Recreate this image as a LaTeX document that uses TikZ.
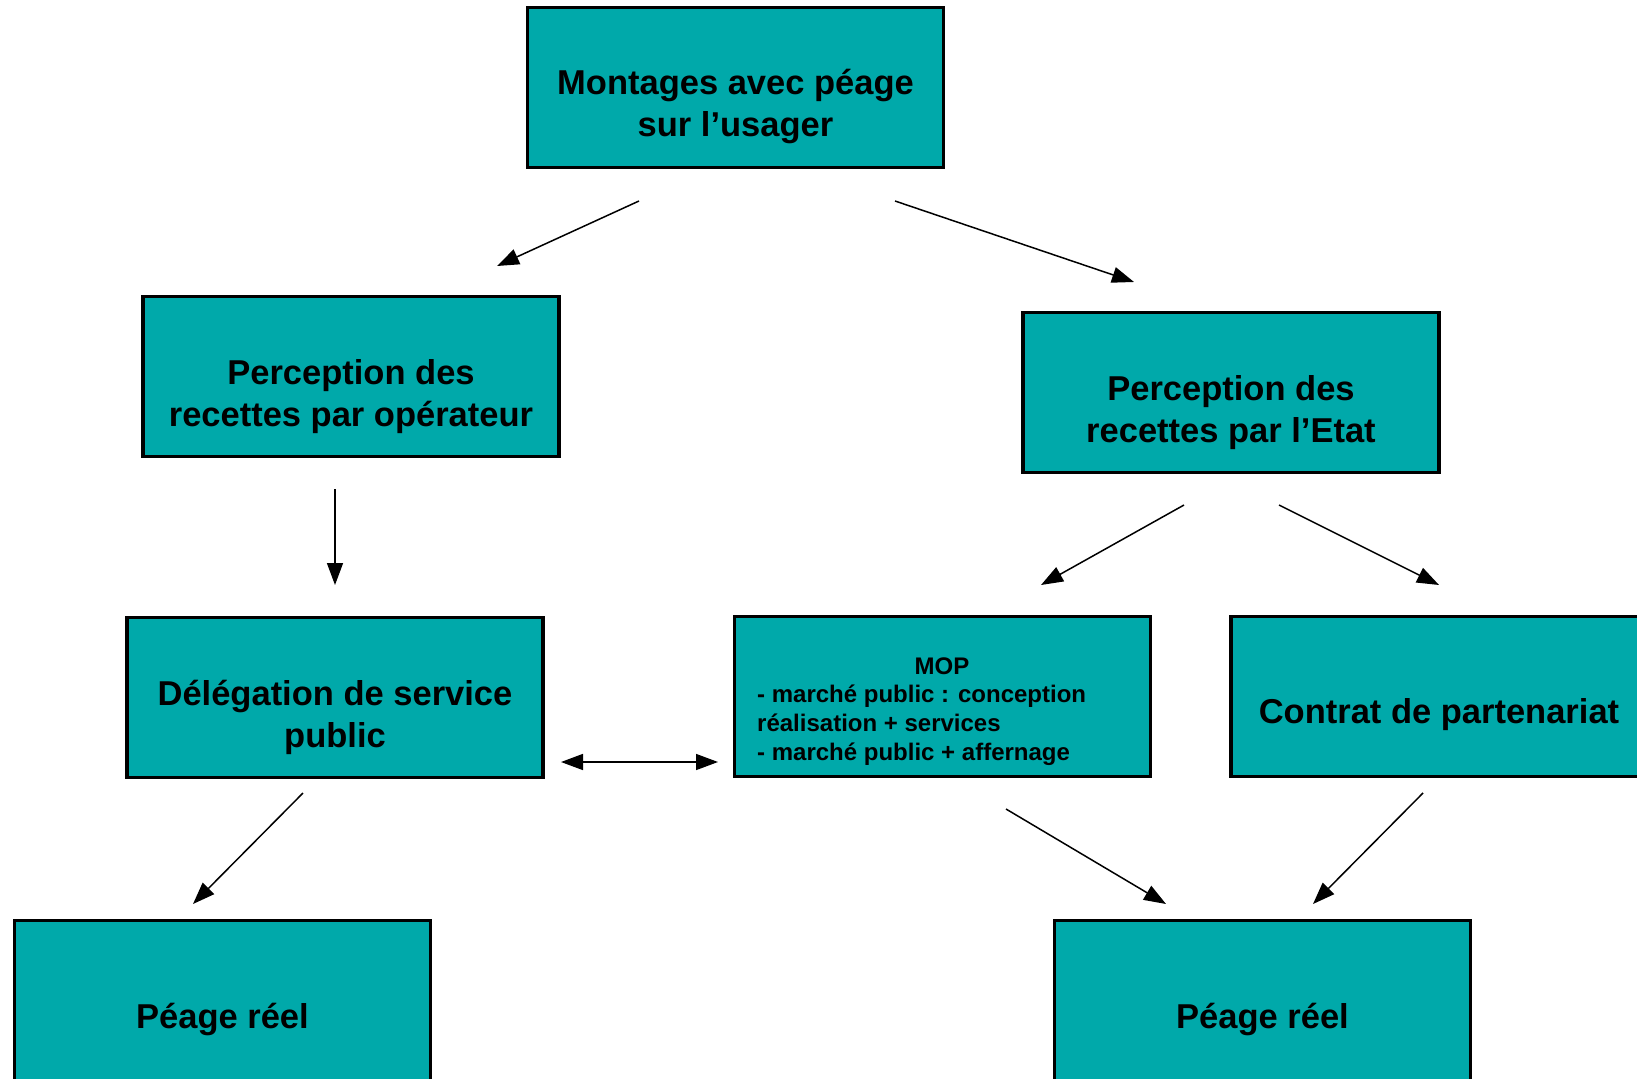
\documentclass[tikz,border=0pt]{standalone}
\usepackage{fontspec}
\setmainfont{Liberation Sans}
\usetikzlibrary{arrows.meta}
\definecolor{tealbox}{RGB}{0,169,170}
\begin{document}
\begin{tikzpicture}[x=1pt,y=-1pt,
  box/.style={draw=black, line width=3.5pt, fill=tealbox, minimum width=416pt, minimum height=160pt, inner sep=0pt, outer sep=0pt},
  big/.style={font=\fontsize{34.5}{42}\selectfont\bfseries, align=center, inner sep=0pt, anchor=base},
  small/.style={font=\fontsize{24}{29}\selectfont\bfseries, inner sep=0pt, anchor=base},
  arr/.style={line width=1.5pt, -{Triangle[length=22pt,width=16pt]}},
  darr/.style={line width=1.5pt, {Triangle[length=22pt,width=16pt]}-{Triangle[length=22pt,width=16pt]}}]
\useasboundingbox (0,0) rectangle (1637,1078);
\clip (0,0) rectangle (1637,1078);
% boxes
\node[box] (top) at (735.5,87.5) {};
\node[box] (op) at (351,376.5) {};
\node[box] (etat) at (1231,392.5) {};
\node[box] (dsp) at (335,697.5) {};
\node[box] (mop) at (942.5,696.5) {};
\node[box] (cp) at (1439,696.5) {};
\node[box] (pl) at (222.5,1000.5) {};
\node[box] (pr) at (1262.5,1000.5) {};
% texts (base = baseline of last line)
\node[big] (topt) at (735.5,137) {Montages avec péage\\sur l’usager};
\node[big] (opt) at (351,426) {Perception des\\recettes par opérateur};
\node[big] (etatt) at (1231,442) {Perception des\\recettes par l’Etat};
\node[big] (dspt) at (335,747) {Délégation de service\\public};
\node[small] (mopt) at (942,674) {MOP};
\node[small, align=left, anchor=base west] (mopl) at (757,760) {- marché public : conception\\réalisation + services\\- marché public + affernage};
\node[big] (cpt) at (1439,723) {Contrat de partenariat};
\node[big] (plt) at (222.5,1028) {Péage réel};
\node[big] (prt) at (1262.5,1028) {Péage réel};
% connector end points
\coordinate (a1s) at (639,201); \coordinate (a1e) at (497,266);
\coordinate (a2s) at (895,201); \coordinate (a2e) at (1134,282);
\coordinate (a3s) at (335,489); \coordinate (a3e) at (335,585);
\coordinate (a4s) at (1184,505); \coordinate (a4e) at (1041,585);
\coordinate (a5s) at (1279,505); \coordinate (a5e) at (1439,585);
\coordinate (a6s) at (561,762); \coordinate (a6e) at (718,762);
\coordinate (a7s) at (303,793); \coordinate (a7e) at (193,904);
\coordinate (a8s) at (1006,809); \coordinate (a8e) at (1166,904);
\coordinate (a9s) at (1423,793); \coordinate (a9e) at (1313,904);
\draw[arr] (a1s) -- (a1e);
\draw[arr] (a2s) -- (a2e);
\draw[arr] (a3s) -- (a3e);
\draw[arr] (a4s) -- (a4e);
\draw[arr] (a5s) -- (a5e);
\draw[darr] (a6s) -- (a6e);
\draw[arr] (a7s) -- (a7e);
\draw[arr] (a8s) -- (a8e);
\draw[arr] (a9s) -- (a9e);
\end{tikzpicture}
\end{document}
